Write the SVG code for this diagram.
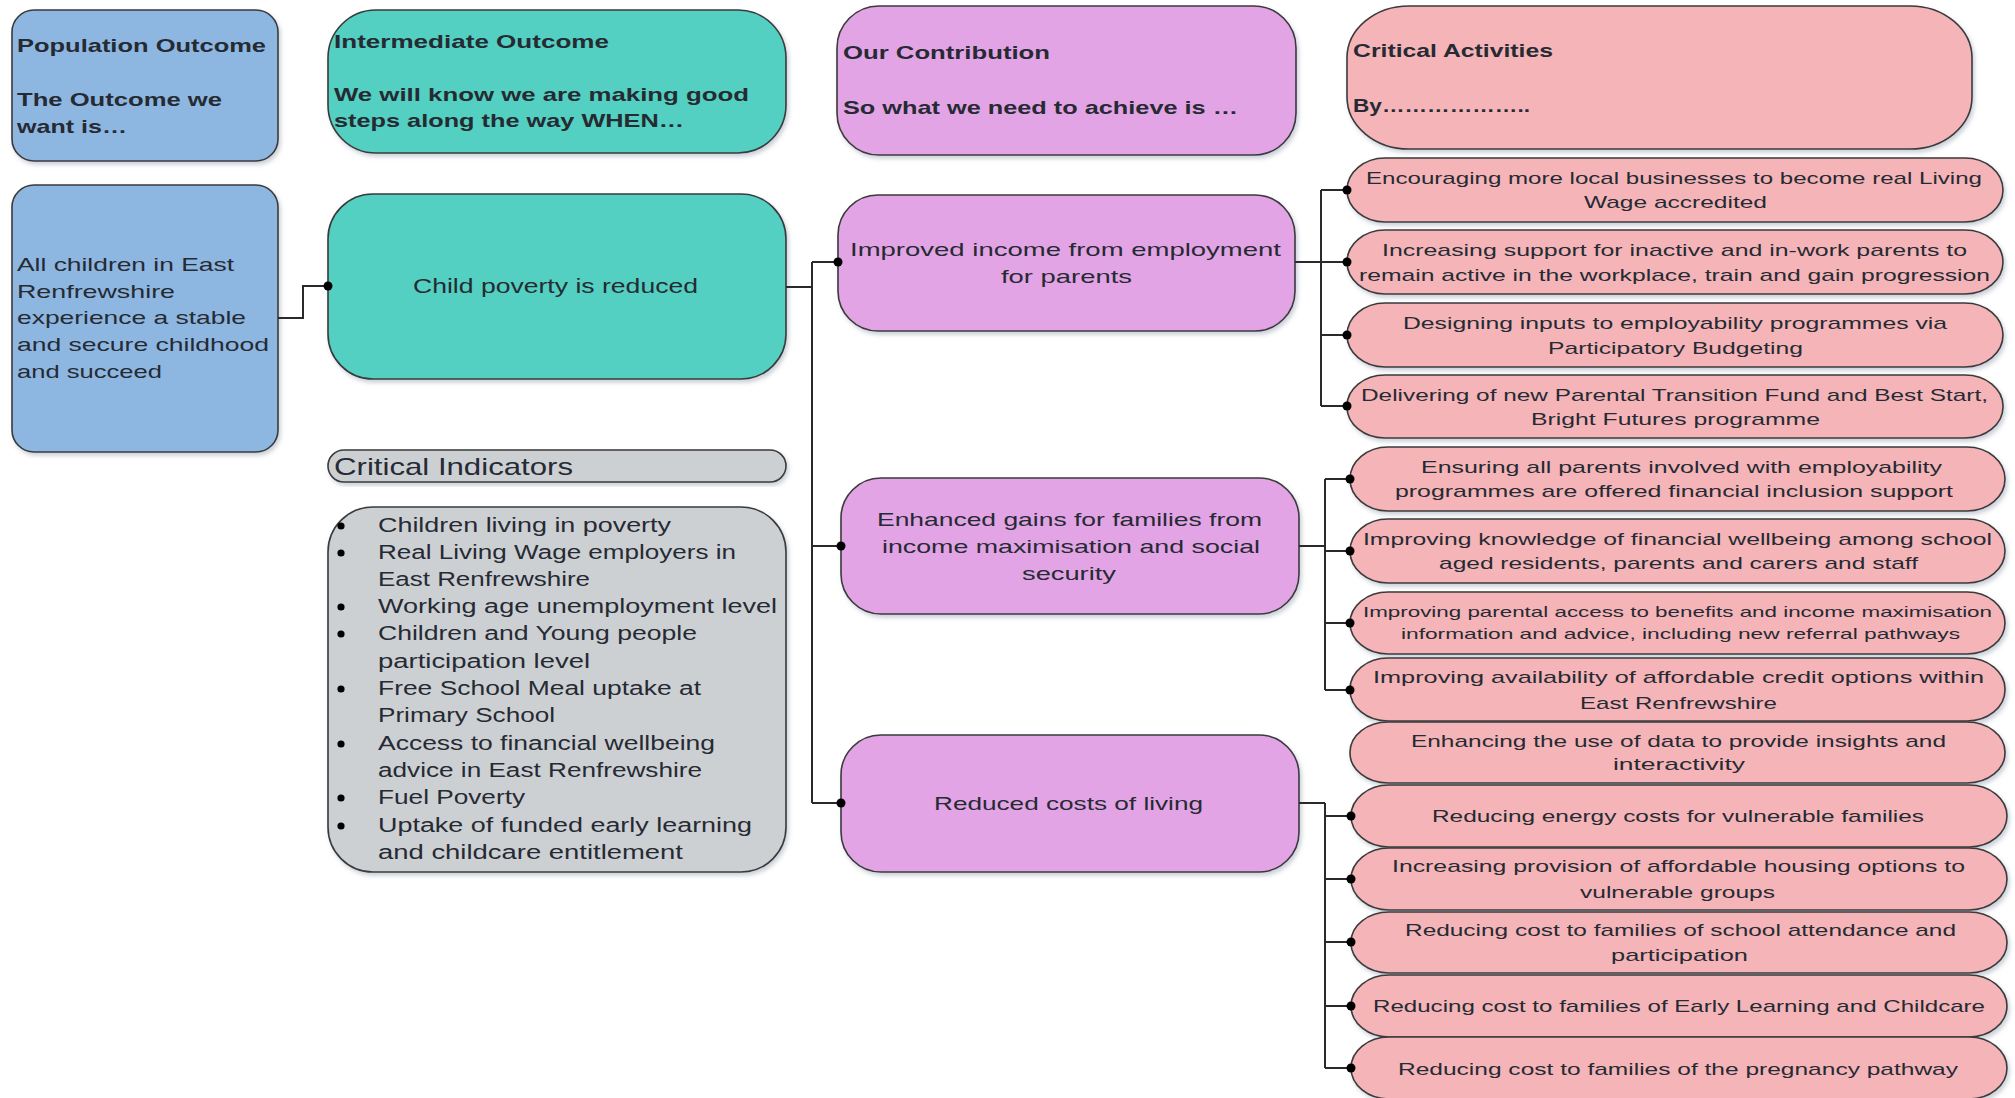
<svg xmlns="http://www.w3.org/2000/svg" width="2015" height="1098" viewBox="0 0 2015 1098">
<defs>
<filter id="sh" x="-5%" y="-5%" width="115%" height="120%">
<feDropShadow dx="2" dy="3" stdDeviation="2" flood-color="#6a7a90" flood-opacity="0.35"/>
</filter>
<style>
.box{stroke:#3a3a3a;stroke-width:1.6;filter:url(#sh)}
.blue{fill:#8db7e1}
.teal{fill:#52d0c1}
.gray{fill:#cdd0d3}
.purple{fill:#e3a4e6}
.pink{fill:#f5b5b8}
text{font-family:"Liberation Sans",Arial,sans-serif;fill:#262a33}
.hd{font-size:19px;font-weight:bold}
.t19{font-size:19px}
.t20{font-size:20px}
.t24{font-size:24px}
.a{font-size:17px}
.a15{font-size:15px}
.ln{fill:none;stroke:#2a2a2a;stroke-width:2}
.dot{fill:#000}
</style>
</defs>
<rect width="2015" height="1098" fill="#ffffff"/>

<g id="hdr-population">
<rect class="box blue" x="12" y="10" width="266" height="151" rx="22"/>
<text class="hd" x="17" y="52" textLength="249" lengthAdjust="spacingAndGlyphs">Population Outcome</text>
<text class="hd" x="17" y="106" textLength="205" lengthAdjust="spacingAndGlyphs">The Outcome we</text>
<text class="hd" x="17" y="133" textLength="110" lengthAdjust="spacingAndGlyphs">want is…</text>
</g>
<g id="hdr-intermediate">
<rect class="box teal" x="328" y="10" width="458" height="143" rx="48"/>
<text class="hd" x="334" y="48" textLength="275" lengthAdjust="spacingAndGlyphs">Intermediate Outcome</text>
<text class="hd" x="334" y="101" textLength="415" lengthAdjust="spacingAndGlyphs">We will know we are making good</text>
<text class="hd" x="334" y="127" textLength="350" lengthAdjust="spacingAndGlyphs">steps along the way WHEN…</text>
</g>
<g id="hdr-contribution">
<rect class="box purple" x="837" y="6" width="459" height="149" rx="42"/>
<text class="hd" x="843" y="59" textLength="207" lengthAdjust="spacingAndGlyphs">Our Contribution</text>
<text class="hd" x="843" y="114" textLength="395" lengthAdjust="spacingAndGlyphs">So what we need to achieve is …</text>
</g>
<g id="hdr-activities">
<rect class="box pink" x="1347" y="6" width="625" height="143" rx="62" ry="52"/>
<text class="hd" x="1353" y="57" textLength="200" lengthAdjust="spacingAndGlyphs">Critical Activities</text>
<text class="hd" x="1353" y="112" textLength="177" lengthAdjust="spacingAndGlyphs">By………………..</text>
</g>

<g id="population-outcome">
<rect class="box blue" x="12" y="185" width="266" height="267" rx="22"/>
<text class="t19" x="17" y="271" textLength="217" lengthAdjust="spacingAndGlyphs">All children in East</text>
<text class="t19" x="17" y="298" textLength="158" lengthAdjust="spacingAndGlyphs">Renfrewshire</text>
<text class="t19" x="17" y="324" textLength="229" lengthAdjust="spacingAndGlyphs">experience a stable</text>
<text class="t19" x="17" y="351" textLength="252" lengthAdjust="spacingAndGlyphs">and secure childhood</text>
<text class="t19" x="17" y="378" textLength="145" lengthAdjust="spacingAndGlyphs">and succeed</text>
</g>

<g id="child-poverty">
<rect class="box teal" x="328" y="194" width="458" height="185" rx="45"/>
<text class="t20" x="413" y="293" textLength="285" lengthAdjust="spacingAndGlyphs">Child poverty is reduced</text>
</g>

<g id="critical-indicators-title">
<rect class="box gray" x="328" y="450" width="458" height="32" rx="16"/>
<text class="t24" x="334" y="475" textLength="239" lengthAdjust="spacingAndGlyphs">Critical Indicators</text>
</g>

<g id="critical-indicators">
<rect class="box gray" x="328" y="507" width="458" height="365" rx="45"/>
<g class="dot">
<circle cx="341" cy="526" r="3.6"/>
<circle cx="341" cy="553" r="3.6"/>
<circle cx="341" cy="607" r="3.6"/>
<circle cx="341" cy="634" r="3.6"/>
<circle cx="341" cy="689" r="3.6"/>
<circle cx="341" cy="744" r="3.6"/>
<circle cx="341" cy="798" r="3.6"/>
<circle cx="341" cy="826" r="3.6"/>
</g>
<text class="t20" x="378" y="532" textLength="293" lengthAdjust="spacingAndGlyphs">Children living in poverty</text>
<text class="t20" x="378" y="559" textLength="358" lengthAdjust="spacingAndGlyphs">Real Living Wage employers in</text>
<text class="t20" x="378" y="586" textLength="212" lengthAdjust="spacingAndGlyphs">East Renfrewshire</text>
<text class="t20" x="378" y="613" textLength="399" lengthAdjust="spacingAndGlyphs">Working age unemployment level</text>
<text class="t20" x="378" y="640" textLength="319" lengthAdjust="spacingAndGlyphs">Children and Young people</text>
<text class="t20" x="378" y="668" textLength="212" lengthAdjust="spacingAndGlyphs">participation level</text>
<text class="t20" x="378" y="695" textLength="323" lengthAdjust="spacingAndGlyphs">Free School Meal uptake at</text>
<text class="t20" x="378" y="722" textLength="177" lengthAdjust="spacingAndGlyphs">Primary School</text>
<text class="t20" x="378" y="750" textLength="337" lengthAdjust="spacingAndGlyphs">Access to financial wellbeing</text>
<text class="t20" x="378" y="777" textLength="324" lengthAdjust="spacingAndGlyphs">advice in East Renfrewshire</text>
<text class="t20" x="378" y="804" textLength="147" lengthAdjust="spacingAndGlyphs">Fuel Poverty</text>
<text class="t20" x="378" y="832" textLength="374" lengthAdjust="spacingAndGlyphs">Uptake of funded early learning</text>
<text class="t20" x="378" y="859" textLength="305" lengthAdjust="spacingAndGlyphs">and childcare entitlement</text>
</g>

<g id="improved-income">
<rect class="box purple" x="838" y="195" width="457" height="136" rx="40"/>
<text class="t19" x="850" y="256" textLength="431" lengthAdjust="spacingAndGlyphs">Improved income from employment</text>
<text class="t19" x="1001" y="283" textLength="131" lengthAdjust="spacingAndGlyphs">for parents</text>
</g>
<g id="enhanced-gains">
<rect class="box purple" x="841" y="478" width="458" height="136" rx="40"/>
<text class="t19" x="877" y="526" textLength="385" lengthAdjust="spacingAndGlyphs">Enhanced gains for families from</text>
<text class="t19" x="882" y="553" textLength="378" lengthAdjust="spacingAndGlyphs">income maximisation and social</text>
<text class="t19" x="1022" y="580" textLength="94" lengthAdjust="spacingAndGlyphs">security</text>
</g>
<g id="reduced-costs">
<rect class="box purple" x="841" y="735" width="458" height="137" rx="40"/>
<text class="t19" x="934" y="810" textLength="269" lengthAdjust="spacingAndGlyphs">Reduced costs of living</text>
</g>

<g id="act-1">
<rect class="box pink" x="1347" y="158" width="656" height="64" rx="38" ry="32"/>
<text class="a" x="1366" y="184" textLength="616" lengthAdjust="spacingAndGlyphs">Encouraging more local businesses to become real Living</text>
<text class="a" x="1584" y="208" textLength="183" lengthAdjust="spacingAndGlyphs">Wage accredited</text>
</g>
<g id="act-2">
<rect class="box pink" x="1347" y="230" width="656" height="64" rx="38" ry="32"/>
<text class="a" x="1382" y="256" textLength="585" lengthAdjust="spacingAndGlyphs">Increasing support for inactive and in-work parents to</text>
<text class="a" x="1359" y="281" textLength="631" lengthAdjust="spacingAndGlyphs">remain active in the workplace, train and gain progression</text>
</g>
<g id="act-3">
<rect class="box pink" x="1347" y="303" width="656" height="64" rx="38" ry="32"/>
<text class="a" x="1403" y="329" textLength="544" lengthAdjust="spacingAndGlyphs">Designing inputs to employability programmes via</text>
<text class="a" x="1548" y="354" textLength="255" lengthAdjust="spacingAndGlyphs">Participatory Budgeting</text>
</g>
<g id="act-4">
<rect class="box pink" x="1347" y="375" width="656" height="63" rx="38" ry="31"/>
<text class="a" x="1361" y="401" textLength="627" lengthAdjust="spacingAndGlyphs">Delivering of new Parental Transition Fund and Best Start,</text>
<text class="a" x="1531" y="425" textLength="289" lengthAdjust="spacingAndGlyphs">Bright Futures programme</text>
</g>
<g id="act-5">
<rect class="box pink" x="1350" y="447" width="655" height="64" rx="38" ry="32"/>
<text class="a" x="1421" y="473" textLength="521" lengthAdjust="spacingAndGlyphs">Ensuring all parents involved with employability</text>
<text class="a" x="1395" y="497" textLength="558" lengthAdjust="spacingAndGlyphs">programmes are offered financial inclusion support</text>
</g>
<g id="act-6">
<rect class="box pink" x="1350" y="519" width="655" height="64" rx="38" ry="32"/>
<text class="a" x="1363" y="545" textLength="629" lengthAdjust="spacingAndGlyphs">Improving knowledge of financial wellbeing among school</text>
<text class="a" x="1439" y="569" textLength="479" lengthAdjust="spacingAndGlyphs">aged residents, parents and carers and staff</text>
</g>
<g id="act-7">
<rect class="box pink" x="1350" y="592" width="655" height="62" rx="38" ry="31"/>
<text class="a15" x="1363" y="617" textLength="629" lengthAdjust="spacingAndGlyphs">Improving parental access to benefits and income maximisation</text>
<text class="a15" x="1401" y="639" textLength="559" lengthAdjust="spacingAndGlyphs">information and advice, including new referral pathways</text>
</g>
<g id="act-8">
<rect class="box pink" x="1350" y="658" width="655" height="63" rx="38" ry="31"/>
<text class="a" x="1373" y="683" textLength="611" lengthAdjust="spacingAndGlyphs">Improving availability of affordable credit options within</text>
<text class="a" x="1580" y="709" textLength="197" lengthAdjust="spacingAndGlyphs">East Renfrewshire</text>
</g>
<g id="act-9">
<rect class="box pink" x="1350" y="722" width="655" height="61" rx="38" ry="30"/>
<text class="a" x="1411" y="747" textLength="535" lengthAdjust="spacingAndGlyphs">Enhancing the use of data to provide insights and</text>
<text class="a" x="1613" y="770" textLength="132" lengthAdjust="spacingAndGlyphs">interactivity</text>
</g>
<g id="act-10">
<rect class="box pink" x="1351" y="785" width="656" height="62" rx="38" ry="31"/>
<text class="a" x="1432" y="822" textLength="492" lengthAdjust="spacingAndGlyphs">Reducing energy costs for vulnerable families</text>
</g>
<g id="act-11">
<rect class="box pink" x="1351" y="848" width="656" height="62" rx="38" ry="31"/>
<text class="a" x="1392" y="872" textLength="573" lengthAdjust="spacingAndGlyphs">Increasing provision of affordable housing options to</text>
<text class="a" x="1580" y="898" textLength="195" lengthAdjust="spacingAndGlyphs">vulnerable groups</text>
</g>
<g id="act-12">
<rect class="box pink" x="1351" y="912" width="656" height="61" rx="38" ry="30"/>
<text class="a" x="1405" y="936" textLength="551" lengthAdjust="spacingAndGlyphs">Reducing cost to families of school attendance and</text>
<text class="a" x="1611" y="961" textLength="137" lengthAdjust="spacingAndGlyphs">participation</text>
</g>
<g id="act-13">
<rect class="box pink" x="1351" y="975" width="656" height="62" rx="38" ry="31"/>
<text class="a" x="1373" y="1012" textLength="612" lengthAdjust="spacingAndGlyphs">Reducing cost to families of Early Learning and Childcare</text>
</g>
<g id="act-14">
<rect class="box pink" x="1351" y="1037" width="656" height="62" rx="38" ry="31"/>
<text class="a" x="1398" y="1075" textLength="560" lengthAdjust="spacingAndGlyphs">Reducing cost to families of the pregnancy pathway</text>
</g>

<g id="connectors">
<path class="ln" d="M278,318 H303 V286 H328"/>
<path class="ln" d="M786,287 H812 M812,262 V803 M812,262 H838 M812,546 H841 M812,803 H841"/>
<path class="ln" d="M1295,262 H1321 M1321,190 V406 M1321,190 H1347 M1321,262 H1347 M1321,335 H1347 M1321,406 H1347"/>
<path class="ln" d="M1299,546 H1325 M1325,479 V690 M1325,479 H1350 M1325,551 H1350 M1325,623 H1350 M1325,690 H1350"/>
<path class="ln" d="M1299,803 H1325 M1325,803 V1068 M1325,816 H1351 M1325,879 H1351 M1325,942 H1351 M1325,1006 H1351 M1325,1068 H1351"/>
<g class="dot">
<circle cx="328" cy="286" r="4.5"/>
<circle cx="838" cy="262" r="4.5"/>
<circle cx="841" cy="546" r="4.5"/>
<circle cx="841" cy="803" r="4.5"/>
<circle cx="1347" cy="190" r="4.5"/>
<circle cx="1347" cy="262" r="4.5"/>
<circle cx="1347" cy="335" r="4.5"/>
<circle cx="1347" cy="406" r="4.5"/>
<circle cx="1350" cy="479" r="4.5"/>
<circle cx="1350" cy="551" r="4.5"/>
<circle cx="1350" cy="623" r="4.5"/>
<circle cx="1350" cy="690" r="4.5"/>
<circle cx="1351" cy="816" r="4.5"/>
<circle cx="1351" cy="879" r="4.5"/>
<circle cx="1351" cy="942" r="4.5"/>
<circle cx="1351" cy="1006" r="4.5"/>
<circle cx="1351" cy="1068" r="4.5"/>
</g>
</g>
</svg>
